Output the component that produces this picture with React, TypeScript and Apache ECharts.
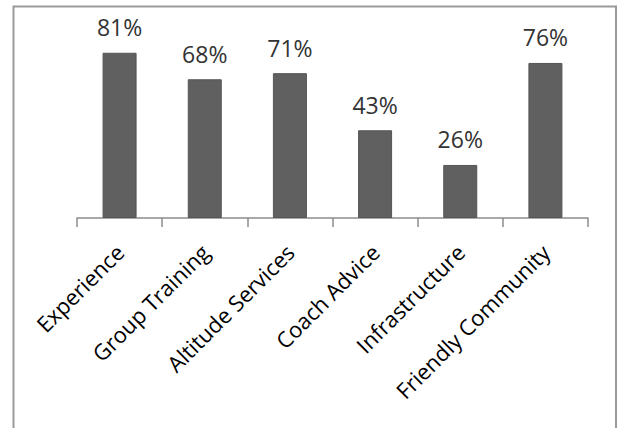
import React, { useEffect, useRef } from "react";
import * as echarts from "echarts";

const categories = ["Experience", "Group Training", "Altitude Services", "Coach Advice", "Infrastructure", "Friendly Community"];
const values = [81, 68, 71, 43, 26, 76];

export default function App() {
  const ref = useRef<HTMLDivElement>(null);
  useEffect(() => {
    const chart = echarts.init(ref.current!, undefined, { renderer: "svg" });
    chart.setOption({
      animation: false,
      graphic: [
        {
          type: "rect",
          shape: { x: 13.5, y: 6.5, width: 602.5, height: 440 },
          style: { fill: "none", stroke: "#9a9a9a", lineWidth: 2 },
          silent: true,
        },
      ],
      grid: { left: 77, right: 30, top: 14, bottom: 210, containLabel: false },
      xAxis: {
        type: "category",
        data: categories,
        axisLine: { lineStyle: { color: "#8c8c8c", width: 1.5 } },
        axisTick: { show: true, length: 9, lineStyle: { color: "#8c8c8c", width: 1.5 } },
        axisLabel: {
          rotate: 45,
          interval: 0,
          margin: 30,
          color: "#000",
          fontSize: 22,
          fontFamily: "Open Sans",
        },
      },
      yAxis: { type: "value", min: 0, max: 100, show: false, splitLine: { show: false } },
      series: [
        {
          type: "bar",
          data: values,
          barWidth: 34,
          itemStyle: { color: "#606060", borderColor: "#555", borderWidth: 1 },
          label: {
            show: true,
            position: "top",
            distance: 14,
            formatter: "{c}%",
            color: "#333",
            fontSize: 23,
            fontFamily: "Open Sans",
          },
        },
      ],
    });
    return () => chart.dispose();
  }, []);
  return <div ref={ref} style={{ position: "fixed", left: 0, top: 0, width: 618, height: 428, background: "#fff" }} />;
}
